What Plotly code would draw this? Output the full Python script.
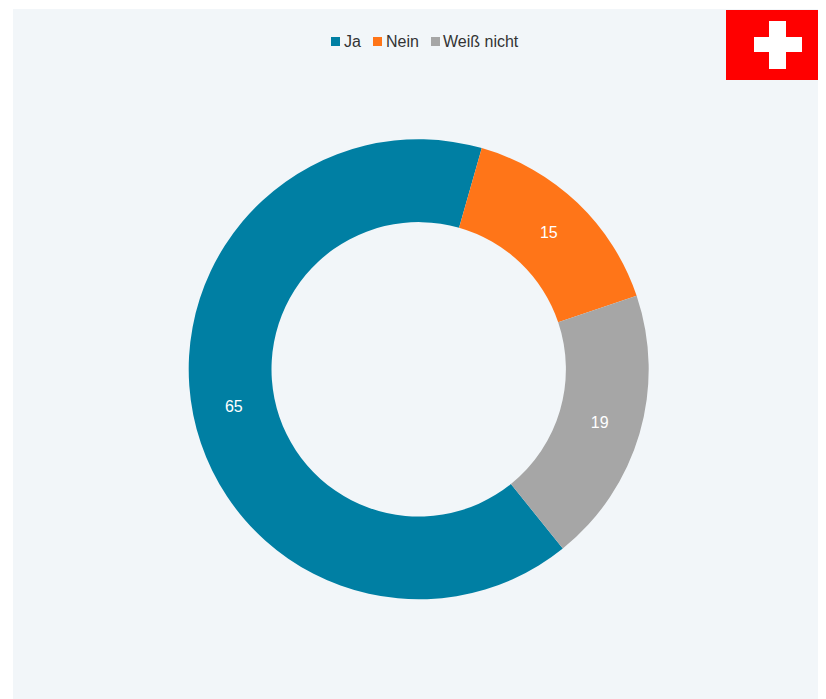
import plotly.graph_objects as go

labels = ["Ja", "Nein", "Weiß nicht"]
values = [65.2, 15.4, 19.4]
colors = ["#007fa3", "#ff7518", "#a6a6a6"]

# The page body has an 8px margin, so the figure sits at (8, 8) in the window
OX, OY = 8, 8
W, H = 826, 691
L, T = 13 - OX, 9 - OY
PW, PH = W - L, H - T
CX, CY, R = 418.7 - OX, 369.3 - OY, 230


def px(x):
    return (x - OX - L) / PW


def py(y):
    return 1 - (y - OY - T) / PH


def rect(x0, x1, y0, y1, color, layer="above"):
    return dict(type="rect", xref="paper", yref="paper", x0=px(x0), x1=px(x1), y0=py(y1), y1=py(y0),
                fillcolor=color, line_width=0, layer=layer)


swatch_x = [331, 373, 431]
text_x = [342.5, 384.5, 442]

shapes = [
    rect(13, 834, 9, 699, "#f2f6f9", "below"),
    rect(726, 834, 10, 80, "#ff0000"),
    rect(769, 786, 21, 69, "white"),
    rect(754, 802, 37, 52, "white"),
]
shapes += [rect(x, x + 9, 37, 46, c) for x, c in zip(swatch_x, colors)]

annotations = [
    dict(text=t, x=px(x), y=py(41.5), xref="paper", yref="paper", xanchor="left", yanchor="middle",
         showarrow=False, xshift=-1, font=dict(size=16, color="#333333", family="Liberation Sans"), borderpad=1)
    for t, x in zip(labels, text_x)
]

fig = go.Figure(go.Pie(
    labels=labels, values=values, sort=False, direction="clockwise", rotation=141.2,
    hole=0.64, marker=dict(colors=colors, line=dict(width=0)),
    texttemplate="%{value:.0f}", textposition="inside", insidetextorientation="horizontal",
    textfont=dict(color="white", size=16, family="Liberation Sans"),
    domain=dict(x=[(CX - R - L) / PW, (CX + R - L) / PW], y=[(H - CY - R) / PH, (H - CY + R) / PH]),
    showlegend=False,
))
fig.update_layout(
    width=W, height=H, margin=dict(l=L, r=0, t=T, b=0, pad=0), paper_bgcolor="white",
    font=dict(family="Liberation Sans", color="#333333", size=15),
    showlegend=False, shapes=shapes, annotations=annotations,
)
fig.write_html("out.html")
